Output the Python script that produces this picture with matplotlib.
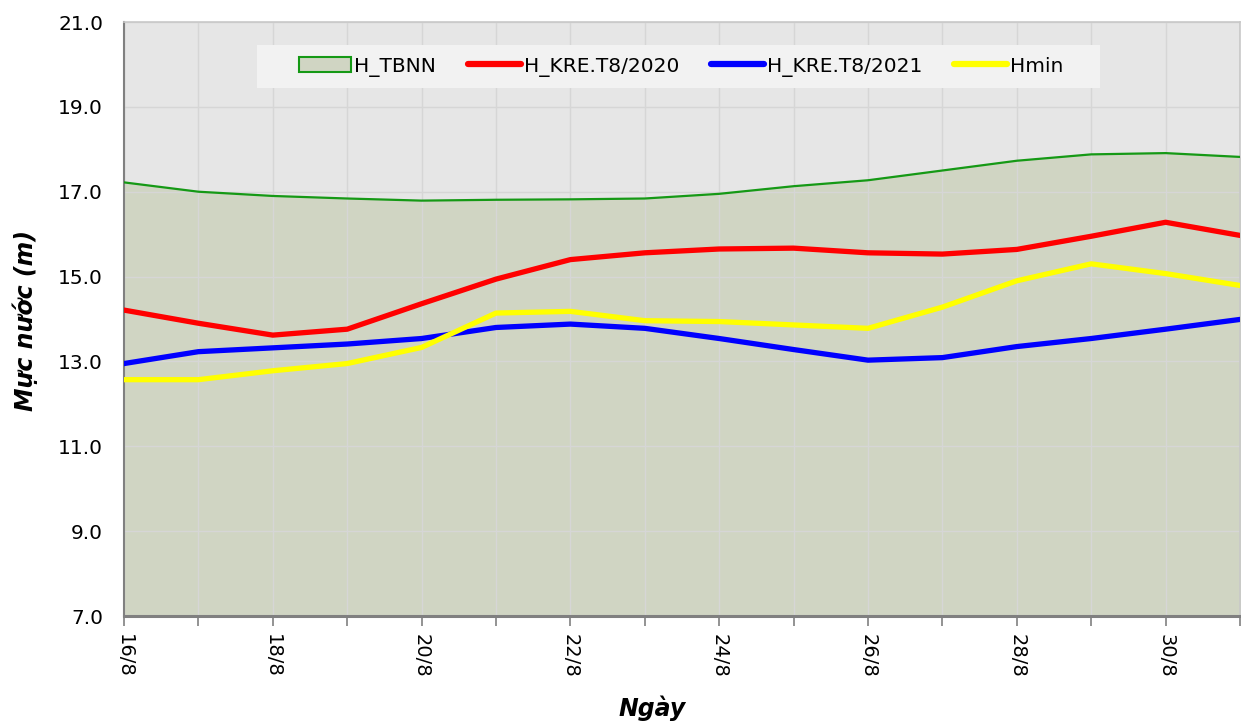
import matplotlib
matplotlib.use("Agg")
import matplotlib.pyplot as plt
from matplotlib.patches import Patch, Rectangle
from matplotlib.lines import Line2D
import numpy as np

days = ["16/8", "17/8", "18/8", "19/8", "20/8", "21/8", "22/8", "23/8",
        "24/8", "25/8", "26/8", "27/8", "28/8", "29/8", "30/8", "31/8"]
h_tbnn = [17.22, 17.00, 16.90, 16.84, 16.79, 16.81, 16.82, 16.84,
          16.95, 17.13, 17.27, 17.50, 17.73, 17.88, 17.91, 17.82]
h_2020 = [14.21, 13.90, 13.62, 13.76, 14.36, 14.94, 15.40, 15.56,
          15.65, 15.67, 15.56, 15.53, 15.64, 15.95, 16.28, 15.97]
h_2021 = [12.95, 13.23, 13.32, 13.41, 13.54, 13.80, 13.88, 13.78,
          13.54, 13.28, 13.03, 13.09, 13.35, 13.54, 13.76, 13.99]
h_min = [12.57, 12.57, 12.78, 12.95, 13.33, 14.14, 14.18, 13.96,
         13.94, 13.86, 13.78, 14.28, 14.90, 15.30, 15.07, 14.79]
yticks = [7.0, 9.0, 11.0, 13.0, 15.0, 17.0, 19.0, 21.0]
labels = ["H_TBNN", "H_KRE.T8/2020", "H_KRE.T8/2021", "Hmin"]

plt.rcParams['font.family'] = ['DejaVu Sans']

fig = plt.figure(figsize=(12.41, 7.24), dpi=100)
ax = fig.add_axes([124/1241, 1-616/724, 1116/1241, 594/724])
ax.set_facecolor('#e6e6e6')

x = np.arange(len(days))
ax.fill_between(x, 7.0, h_tbnn, color='#d0d5c3', zorder=1)
ax.plot(x, h_tbnn, color='#159915', lw=1.6, zorder=3)
ax.plot(x, h_2020, color='#ff0000', lw=3.8, zorder=4, solid_joinstyle='round')
ax.plot(x, h_2021, color='#0000ff', lw=3.8, zorder=4, solid_joinstyle='round')
ax.plot(x, h_min, color='#ffff00', lw=3.8, zorder=5, solid_joinstyle='round')

ax.set_xlim(0, len(days)-1)
ax.set_ylim(7, 21)
ax.set_yticks(yticks)
ax.set_yticklabels([f"{v:.1f}" for v in yticks], fontsize=14.5)
ax.set_xticks(x)
ax.set_xticklabels([d if i % 2 == 0 else "" for i, d in enumerate(days)],
                   rotation=270, fontsize=14)
ax.tick_params(axis='x', length=7, width=1.2, color='#808080', pad=6)
ax.tick_params(axis='y', length=0, pad=15)
ax.grid(True, color='#d6d6d6', lw=1.0, zorder=2)
for l in ax.get_xgridlines() + ax.get_ygridlines():
    l.set_zorder(2)

for s in ['top', 'right']:
    ax.spines[s].set_color('#c8c8c8')
    ax.spines[s].set_linewidth(1.2)
ax.spines['left'].set_color('#808080')
ax.spines['left'].set_linewidth(1.5)
ax.spines['bottom'].set_color('#808080')
ax.spines['bottom'].set_linewidth(2.2)

ax.set_ylabel("Mực nước (m)", fontsize=17, fontweight='bold', style='italic')
ax.yaxis.set_label_coords(-0.077, 0.497)
ax.set_xlabel("Ngày", fontsize=17, fontweight='bold', style='italic')
ax.xaxis.set_label_coords(0.473, -0.134)

# legend background box
ax.add_patch(Rectangle((0.1192, 0.8889), 0.7554, 0.0724, transform=ax.transAxes,
                       facecolor='#f2f2f2', edgecolor='none', zorder=9))

handles = [Patch(facecolor='#d0d5c3', edgecolor='#159915', lw=1.5),
           Line2D([], [], color='#ff0000', lw=4.5, solid_capstyle='round'),
           Line2D([], [], color='#0000ff', lw=4.5, solid_capstyle='round'),
           Line2D([], [], color='#ffff00', lw=4.5, solid_capstyle='round')]
leg = ax.legend(handles, labels, ncol=4, loc='center',
                bbox_to_anchor=(0.499, 0.925), fontsize=14.5, frameon=False,
                handlelength=2.6, handleheight=0.75, handletextpad=0.15,
                columnspacing=1.6, borderpad=0.3)
leg.set_zorder(10)

fig.savefig("out.png", dpi=100, facecolor='white')
